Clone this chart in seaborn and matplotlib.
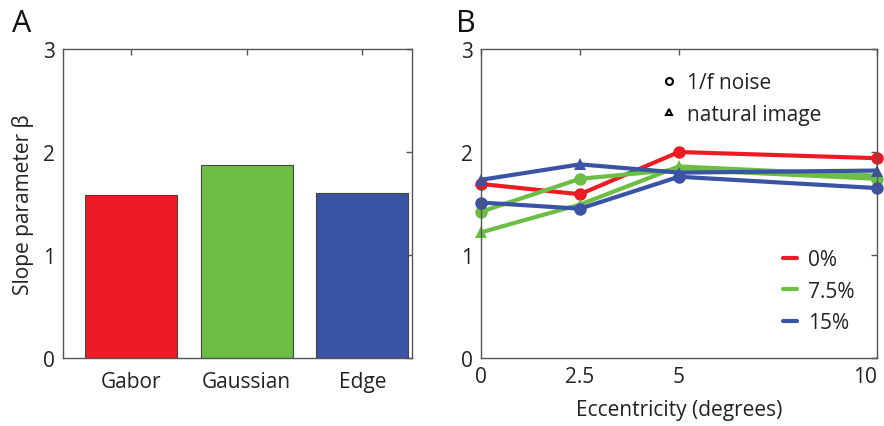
import matplotlib
matplotlib.use("Agg")
import matplotlib.pyplot as plt
from matplotlib.lines import Line2D
import seaborn as sns
import pandas as pd

# Panel A: slope parameter per stimulus type
stimuli = ["Gabor", "Gaussian", "Edge"]
slopes = [1.58, 1.87, 1.60]

# Panel B: slope parameter vs eccentricity
eccentricity = [0, 2.5, 5, 10]
red_noise = [1.69, 1.59, 2.00, 1.94]          # 0%
green_noise = [1.42, 1.74, 1.83, 1.74]        # 7.5%, 1/f noise
green_natural = [1.22, 1.49, 1.86, 1.77]      # 7.5%, natural image
blue_noise = [1.51, 1.45, 1.76, 1.65]         # 15%, 1/f noise
blue_natural = [1.73, 1.88, 1.80, 1.82]       # 15%, natural image

noise_levels = ["0%", "7.5%", "15%"]
colors = {"0%": "#ED1C24", "7.5%": "#6DBE45", "15%": "#3A53A4"}

sns.set_theme(style="white")
plt.rcParams["font.family"] = ["Open Sans", "DejaVu Sans"]

fig = plt.figure(figsize=(8.84, 4.27), dpi=100)
axA = fig.add_axes([0.0713, 0.159, 0.3947, 0.724])
axB = fig.add_axes([0.544, 0.159, 0.448, 0.724])

edge = "#555555"
for ax in (axA, axB):
    for s in ax.spines.values():
        s.set_visible(True)
        s.set_color(edge)
        s.set_linewidth(1.0)
    ax.tick_params(direction="in", length=4, width=1, color=edge,
                   top=True, right=True, labelsize=15, labelcolor="#222222",
                   pad=6)

# --- Panel A ---
dfA = pd.DataFrame({"stimulus": stimuli, "slope": slopes})
sns.barplot(data=dfA, x="stimulus", y="slope", hue="stimulus",
            palette=["#ED1C24", "#6DBE45", "#3A53A4"], saturation=1,
            width=0.8, edgecolor="#444444", linewidth=0.8, legend=False,
            ax=axA)
axA.set_ylim(0, 3)
axA.set_xlim(-0.59, 2.43)
axA.set_yticks([0, 1, 2, 3])
axA.set_xlabel("")
axA.set_ylabel("Slope parameter β", fontsize=15, color="#222222", labelpad=6)
axA.tick_params(axis="x", pad=9)
fig.text(0.014, 0.943, "A", fontsize=22, color="#111111", va="center")

# --- Panel B ---
rows = []
series = [("0%", "1/f noise", red_noise),
          ("7.5%", "1/f noise", green_noise),
          ("7.5%", "natural image", green_natural),
          ("15%", "1/f noise", blue_noise),
          ("15%", "natural image", blue_natural)]
for lvl, stim, vals in series:
    for e, v in zip(eccentricity, vals):
        rows.append({"ecc": e, "slope": v, "noise": lvl, "stimulus": stim,
                     "unit": lvl + stim})
dfB = pd.DataFrame(rows)
sns.lineplot(data=dfB, x="ecc", y="slope", hue="noise", style="stimulus",
             units="unit", estimator=None, palette=colors,
             markers={"1/f noise": "o", "natural image": "^"}, dashes=False,
             linewidth=3, markersize=9, markeredgewidth=0, legend=False,
             clip_on=False, ax=axB)
axB.set_xlim(0, 10)
axB.set_ylim(0, 3)
axB.set_xticks([0, 2.5, 5, 10])
axB.set_xticklabels(["0", "2.5", "5", "10"])
axB.get_xticklabels()[-1].set_horizontalalignment("right")
axB.set_yticks([0, 1, 2, 3])
axB.set_ylabel("")
axB.set_xlabel("Eccentricity (degrees)", fontsize=15, color="#222222", labelpad=8)
fig.text(0.516, 0.943, "B", fontsize=22, color="#111111", va="center")

shape_handles = [
    Line2D([], [], linestyle="none", marker="o", markersize=5,
           markerfacecolor="white", markeredgecolor="black", markeredgewidth=1.5),
    Line2D([], [], linestyle="none", marker="^", markersize=5,
           markerfacecolor="white", markeredgecolor="black", markeredgewidth=1.5),
]
leg1 = axB.legend(shape_handles, ["1/f noise", "natural image"],
                  loc="upper left", bbox_to_anchor=(0.41, 0.985), frameon=False,
                  fontsize=15, handlelength=0.7, handletextpad=0.5,
                  labelspacing=0.5, labelcolor="#222222")
axB.add_artist(leg1)
color_handles = [Line2D([], [], color=colors[l], linewidth=3) for l in noise_levels]
axB.legend(color_handles, noise_levels, loc="lower right",
           bbox_to_anchor=(0.99, 0.02), frameon=False, fontsize=15,
           handlelength=0.7, handletextpad=0.5, labelspacing=0.5,
           labelcolor="#222222")

fig.savefig("out.png", dpi=100)
